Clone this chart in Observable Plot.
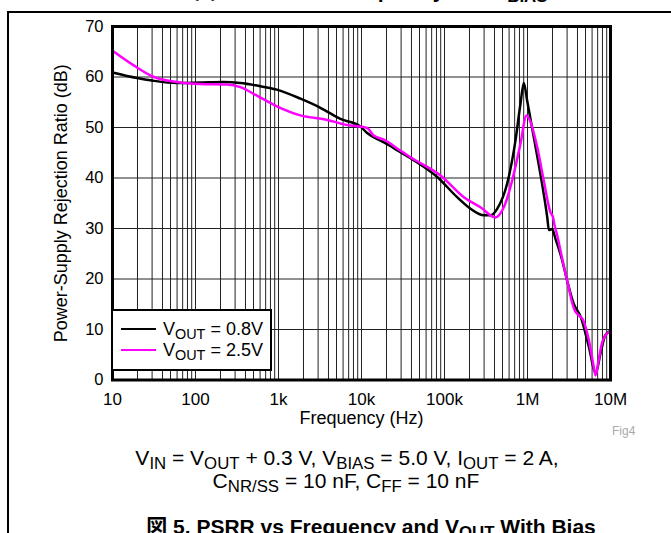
<!DOCTYPE html>
<html><head><meta charset="utf-8">
<script src="https://cdn.jsdelivr.net/npm/d3@7"></script>
<script src="https://cdn.jsdelivr.net/npm/@observablehq/plot@0.6"></script>
<style>
body{margin:0;background:#fff;}
#wrap{position:relative;width:671px;height:533px;overflow:hidden;background:#fff;font-family:"Liberation Sans",Arial,"Noto Sans CJK JP",sans-serif;color:#000;}
#chart{position:absolute;left:0;top:0;}
.abs{position:absolute;white-space:nowrap;}
sub{font-size:0.8em;vertical-align:-0.25em;line-height:0;}
.cap{font-size:21px;line-height:23px;text-align:center;width:800px;}
</style></head><body>
<div id="wrap">
  <div id="chart"></div>
  <div class="abs" style="left:7px;top:11px;width:700px;height:1.5px;background:#000"></div>
  <div class="abs" style="left:7px;top:11px;width:1.5px;height:540px;background:#000"></div>
  <div class="abs cap" id="prevTitle" style="left:-29px;top:-21px;font-weight:bold;"></div>
  <div class="abs" id="legend" style="left:111px;top:309px;width:157px;height:58px;border:2px solid #000;background:#fff;"></div>
  <div class="abs" id="figTag" style="left:612px;top:424px;font-size:12px;color:#aaa;line-height:14px;"></div>
  <div class="abs cap" id="cond1" style="left:-53px;top:446px;"></div>
  <div class="abs cap" id="cond2" style="left:-54px;top:469px;"></div>
  <div class="abs cap" id="title" style="left:-29px;top:515px;font-weight:bold;"></div>
</div>
<script>
// ---- data ----
const xTicks = [10, 100, 1e3, 1e4, 1e5, 1e6, 1e7];
const xTickLabels = ["10", "100", "1k", "10k", "100k", "1M", "10M"];
const yTicks = [0, 10, 20, 30, 40, 50, 60, 70];
const decades = [10, 100, 1e3, 1e4, 1e5, 1e6];
const minorSteps = [1, 2, 3, 4, 5, 6, 7, 8, 9];

const seriesNames = ["VOUT = 0.8V", "VOUT = 2.5V"];
const legendValues = ["0.8V", "2.5V"];
const seriesColors = ["#000000", "#ff00ff"];

const freq08 = [10, 19.8, 30, 60, 115, 217, 347, 550, 955, 1840, 3200, 5580, 9720, 11700, 16900, 18400, 29500, 42700, 81700, 142000, 206000, 298000, 358000, 431000, 569000, 716000, 823000, 903000, 991000, 1.19e6, 1.43e6, 1.73e6, 1.81e6, 1.98e6, 2.17e6, 2.62e6, 3.0e6, 3.6e6, 4.4e6, 5.5e6, 6.6e6, 7.7e6, 8.6e6, 9.8e6];
const psrr08 = [60.9, 59.8, 59.3, 58.8, 58.9, 59.0, 58.8, 58.3, 57.5, 55.7, 53.9, 51.7, 50.2, 48.9, 47.4, 47.1, 45.1, 43.5, 40.2, 36.2, 33.9, 32.6, 32.6, 33.9, 38.9, 47.4, 54.7, 58.8, 55.3, 48.1, 40.8, 32.2, 29.7, 29.9, 28.0, 23.7, 19.7, 15.1, 12.4, 6.5, 1.5, 5.8, 8.8, 9.7];

const freq25 = [10, 18, 31.5, 60, 115, 240, 347, 550, 955, 1840, 3880, 6700, 11700, 14000, 18600, 29500, 38900, 89500, 171000, 271000, 411000, 518000, 654000, 823000, 972000, 1.07e6, 1.31e6, 1.57e6, 1.89e6, 2.03e6, 2.1e6, 2.25e6, 2.7e6, 3.2e6, 3.4e6, 3.7e6, 4.15e6, 4.7e6, 5.5e6, 6.3e6, 6.6e6, 7.2e6, 7.95e6, 9.55e6];
const psrr25 = [65.2, 62.3, 60.0, 59.0, 58.6, 58.5, 58.0, 56.3, 54.2, 52.4, 51.5, 50.5, 49.9, 48.4, 47.6, 45.4, 44.1, 40.5, 36.2, 34.2, 32.2, 34.2, 39.5, 46.8, 52.4, 51.4, 46.1, 39.5, 33.2, 32.2, 30.9, 29.0, 23.0, 17.7, 15.7, 13.8, 12.8, 11.8, 7.8, 2.5, 0.9, 3.9, 7.5, 9.5];

const xLabel = "Frequency (Hz)";
const yLabel = "Power-Supply Rejection Ratio (dB)";
const figTag = "Fig4";
const condLine1 = "V<sub>IN</sub> = V<sub>OUT</sub> + 0.3 V, V<sub>BIAS</sub> = 5.0 V, I<sub>OUT</sub> = 2 A,";
const condLine2 = "C<sub>NR/SS</sub> = 10 nF, C<sub>FF</sub> = 10 nF";
const titleText = "図 5. PSRR vs Frequency and V<sub>OUT</sub> With Bias";
const prevTitleText = "図 4. PSRR vs Frequency and V<sub>BIAS</sub>";

// ---- build ----
const gridFreqs = decades.flatMap(d => minorSteps.map(k => d * k)).concat([1e7]);
const rows = [
  ...freq08.map((f, i) => ({f, db: psrr08[i], s: seriesNames[0]})),
  ...freq25.map((f, i) => ({f, db: psrr25[i], s: seriesNames[1]}))
];
const font = '"Liberation Sans", Arial, sans-serif';

const chart = Plot.plot({
  width: 671, height: 533,
  marginLeft: 112, marginRight: 61, marginTop: 26, marginBottom: 153.5,
  style: {fontFamily: font, color: "#000", background: "transparent", overflow: "visible"},
  x: {type: "log", domain: [10, 1e7]},
  y: {domain: [0, 70]},
  color: {domain: seriesNames, range: seriesColors},
  marks: [
    Plot.ruleX(gridFreqs, {stroke: "#222", strokeWidth: 1}),
    Plot.ruleY(yTicks, {stroke: "#222", strokeWidth: 1}),
    Plot.line(rows, {x: "f", y: "db", z: "s", stroke: "s", strokeWidth: 2.5, curve: "monotone-x"}),
    Plot.frame({stroke: "#000", strokeWidth: 3}),
    Plot.axisX({ticks: xTicks, tickFormat: d => xTickLabels[xTicks.indexOf(d)], tickSize: 0, tickPadding: 13, label: null, fontSize: 17}),
    Plot.axisX({ticks: [], label: xLabel, labelAnchor: "center", labelArrow: "none", labelOffset: 44, fontSize: 18}),
    Plot.axisY({ticks: yTicks, tickSize: 0, tickPadding: 9, label: null, fontSize: 16.5}),
    Plot.axisY({ticks: [], label: yLabel, labelAnchor: "center", labelArrow: "none", labelOffset: 58, fontSize: 18})
  ]
});
document.getElementById("chart").appendChild(chart);

// legend
const leg = document.getElementById("legend");
legendValues.forEach((v, i) => {
  const y = 18 + i * 21;
  const ln = document.createElement("div");
  ln.className = "abs";
  ln.style.cssText = `left:8px;top:${y - 1.25}px;width:35px;height:2.5px;background:${seriesColors[i]}`;
  leg.appendChild(ln);
  const tx = document.createElement("div");
  tx.className = "abs";
  tx.style.cssText = `left:50px;top:${y - 11}px;font-size:18px;line-height:22px;`;
  tx.innerHTML = `V<sub>OUT</sub> = ${v}`;
  leg.appendChild(tx);
});
document.getElementById("figTag").textContent = figTag;
document.getElementById("cond1").innerHTML = condLine1;
document.getElementById("cond2").innerHTML = condLine2;
document.getElementById("title").innerHTML = titleText;
document.getElementById("prevTitle").innerHTML = prevTitleText;
</script>
</body></html>
